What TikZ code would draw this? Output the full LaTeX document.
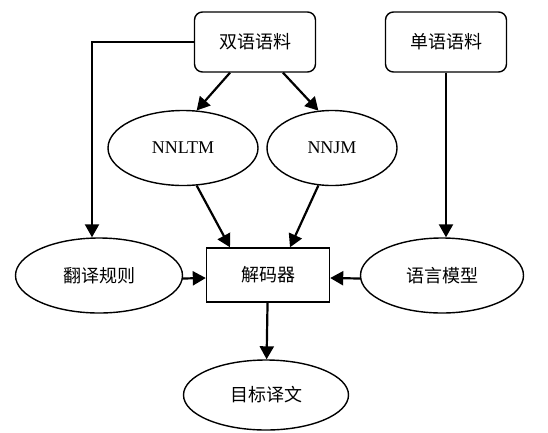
\documentclass[tikz,border=0pt]{standalone}
\usepackage{fontspec}
\setmainfont{Liberation Serif}
\newfontfamily\cjk{Noto Sans CJK SC}
\usepackage{tikz}
\usetikzlibrary{positioning, shapes, shapes.geometric, calc, arrows.meta}

\begin{document}
\begin{tikzpicture}[
    x=1pt, y=-1pt,
    font=\fontsize{18}{22}\selectfont,
    corpus/.style={rectangle, rounded corners=8pt, draw, line width=1.4pt, minimum width=121pt, minimum height=60pt, inner sep=0pt},
    model/.style={ellipse, draw, line width=1.4pt, inner sep=0pt},
    decoder/.style={rectangle, draw, line width=1.4pt, minimum width=123pt, minimum height=54pt, inner sep=0pt},
    arrow/.style={-{Triangle[length=13pt, width=14pt]}, line width=2.2pt}
]
\useasboundingbox (0,0) rectangle (548,432);

% corpora on top
\node[corpus] (bi) at (255,42) {\cjk 双语语料};
\node[corpus] (mono) at (446,42) {\cjk 单语语料};

% neural models
\node[model, minimum width=150pt, minimum height=75pt] (nnltm) at (183,148) {NNLTM};
\node[model, minimum width=130pt, minimum height=75pt] (nnjm) at (332,148) {NNJM};

% middle row
\node[model, minimum width=167pt, minimum height=75pt] (rule) at (99,275.5) {\cjk 翻译规则};
\node[decoder] (dec) at (268,275) {\cjk 解码器};
\node[model, minimum width=163pt, minimum height=75pt] (lm) at (442,275.5) {\cjk 语言模型};

% output
\node[model, minimum width=165pt, minimum height=70pt] (target) at (266,395) {\cjk 目标译文};

% Arrows
\draw[arrow] ([xshift=-25pt]bi.south) -- (nnltm.70);
\draw[arrow] ([xshift=28pt]bi.south) -- (nnjm.110);
\draw[arrow] (bi.west) -| ([xshift=-7pt]rule.north);
\draw[arrow] (mono) -- (mono |- lm.north);
\draw[arrow] (nnltm.-70) -- ([xshift=-38pt]dec.north);
\draw[arrow] (nnjm.-110) -- ([xshift=22pt]dec.north);
\draw[arrow] ([yshift=-3pt]rule.east) -- ([yshift=-3pt]dec.west);
\draw[arrow] ([yshift=-3pt]lm.west) -- ([yshift=-3pt]dec.east);
\draw[arrow] (dec) -- (target);

\end{tikzpicture}
\end{document}
